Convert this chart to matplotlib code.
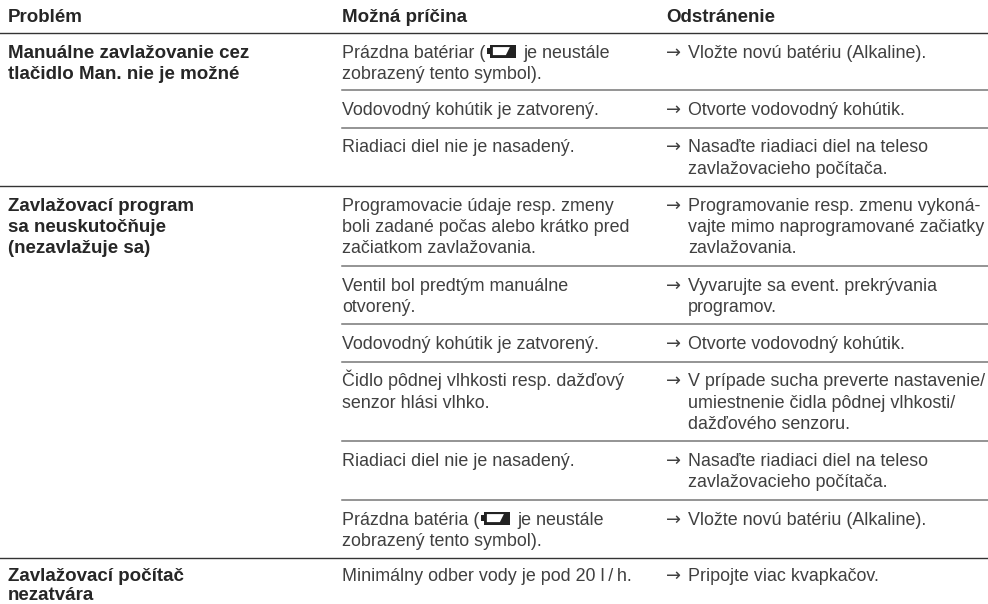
import matplotlib
matplotlib.use('Agg')
import matplotlib.pyplot as plt
from matplotlib.patches import Rectangle, Polygon

# table content
headers = ['Problém', 'Možná príčina', 'Odstránenie']

problems = [
    ['Manuálne zavlažovanie cez', 'tlačidlo Man. nie je možné'],
    ['Zavlažovací program', 'sa neuskutočňuje', '(nezavlažuje sa)'],
    ['Zavlažovací počítač', 'nezatvára'],
]
problem_rows = [0, 3, 9]

causes = [
    ['Prázdna batériar (', 'zobrazený tento symbol).'],
    ['Vodovodný kohútik je zatvorený.'],
    ['Riadiaci diel nie je nasadený.'],
    ['Programovacie údaje resp. zmeny', 'boli zadané počas alebo krátko pred', 'začiatkom zavlažovania.'],
    ['Ventil bol predtým manuálne', 'otvorený.'],
    ['Vodovodný kohútik je zatvorený.'],
    ['Čidlo pôdnej vlhkosti resp. dažďový', 'senzor hlási vlhko.'],
    ['Riadiaci diel nie je nasadený.'],
    ['Prázdna batéria (', 'zobrazený tento symbol).'],
    ['Minimálny odber vody je pod 20 l\u2009/\u2009h.'],
]
battery_rows = [0, 8]
battery_tail = 'je neustále'

fixes = [
    ['Vložte novú batériu (Alkaline).'],
    ['Otvorte vodovodný kohútik.'],
    ['Nasaďte riadiaci diel na teleso', 'zavlažovacieho počítača.'],
    ['Programovanie resp. zmenu vykoná-', 'vajte mimo naprogramované začiatky', 'zavlažovania.'],
    ['Vyvarujte sa event. prekrývania', 'programov.'],
    ['Otvorte vodovodný kohútik.'],
    ['V prípade sucha preverte nastavenie/', 'umiestnenie čidla pôdnej vlhkosti/', 'dažďového senzoru.'],
    ['Nasaďte riadiaci diel na teleso', 'zavlažovacieho počítača.'],
    ['Vložte novú batériu (Alkaline).'],
    ['Pripojte viac kvapkačov.'],
]

# y of the rule under each row, pixels from top
rules = [90.3, 127.7, 186, 266, 324, 361.7, 441, 500, 557.6]
dark = [186, 557.6]
top = 33

plt.rcParams['font.family'] = ['Liberation Sans', 'DejaVu Sans']
txt = '#404040'
bold = '#262626'
fs = 12.9
fs_bold = 13.5
lh = 21.3
first_line = 24.6
# the last row sits a bit tighter so it stays inside the picture
last_line = 23.2
last_lh = 19.3

fig = plt.figure(figsize=(9.88, 6.04), dpi=100)
ax = fig.add_axes([0, 0, 1, 1])
ax.set_xlim(0, 988)
ax.set_ylim(604, 0)
ax.axis('off')

x1, x2, x3, x3_text = 8, 342, 666, 688

for x, h in zip([x1, x2, x3], headers):
    ax.text(x, 22, h, fontsize=fs_bold, fontweight='bold', color=bold, va='baseline')

ax.plot([0, 988], [top, top], color='#333333', lw=1.0)
for y in rules:
    if y in dark:
        ax.plot([0, 988], [y, y], color='#333333', lw=1.0)
    else:
        ax.plot([342, 988], [y, y], color='#777777', lw=1.1)


def battery(x, y):
    ax.add_patch(Rectangle((x + 3, y - 6.5), 26, 13, color='#222222', lw=0))
    ax.add_patch(Rectangle((x, y - 3), 3, 6, color='#222222', lw=0))
    ax.add_patch(Polygon([(x + 6, y + 4), (x + 19, y + 4), (x + 23, y - 4), (x + 6, y - 4)], color='white', lw=0))


def row_y(i):
    return starts[i] + (last_line if i == len(causes) - 1 else first_line)


starts = [top] + rules
renderer = fig.canvas.get_renderer()
inv = ax.transData.inverted()
for i in range(len(causes)):
    y0 = row_y(i)
    for j, line in enumerate(causes[i]):
        t = ax.text(x2, y0 + j * lh, line, fontsize=fs, color=txt, va='baseline')
        if i in battery_rows and j == 0:
            end = inv.transform(t.get_window_extent(renderer).get_points())[1][0]
            battery(end + 1.5, y0 - 6.5)
            ax.text(end + 37.5, y0, battery_tail, fontsize=fs, color=txt, va='baseline')
    ax.text(x3, y0, '→', fontsize=fs, color=txt, va='baseline', family='DejaVu Sans')
    for j, line in enumerate(fixes[i]):
        ax.text(x3_text, y0 + j * lh, line, fontsize=fs, color=txt, va='baseline')

for row, lines in zip(problem_rows, problems):
    y0 = row_y(row)
    step = last_lh if row == len(causes) - 1 else lh
    for j, line in enumerate(lines):
        ax.text(x1, y0 + j * step, line, fontsize=fs_bold, fontweight='bold', color=bold, va='baseline')

fig.savefig('out.png', dpi=100)
